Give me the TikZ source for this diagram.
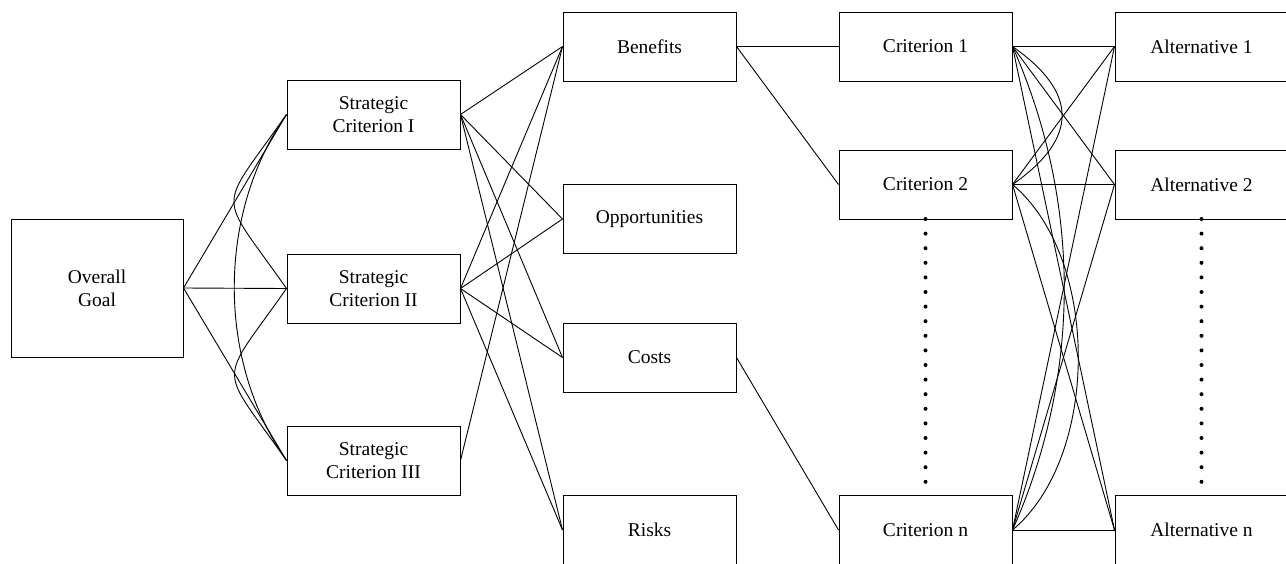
\documentclass[tikz,border=0pt]{standalone}
\usepackage{fontspec}
\setmainfont{Liberation Serif}

\begin{document}
\begin{tikzpicture}[x=1pt, y=-1pt,
    blk/.style={draw, line width=1pt, minimum width=173pt, minimum height=69pt,
      inner sep=2pt, align=center, font=\fontsize{19.5}{23}\selectfont},
    lnk/.style={line width=0.9pt},
    dotmark/.style={fill, circle, inner sep=0pt, minimum size=4pt}]
  \useasboundingbox (0,0) rectangle (1286,563);
  % --- Goal and strategic criteria ---
  \node[blk, minimum width=172pt, minimum height=138pt] (goal) at (97,288) {Overall\\Goal};
  \node[blk] (sc1) at (373.5,114.5) {Strategic\\Criterion I};
  \node[blk] (sc2) at (373.5,288.5) {Strategic\\Criterion II};
  \node[blk] (sc3) at (373.5,460.5) {Strategic\\Criterion III};
  % --- BOCR merits ---
  \node[blk] (ben)  at (649.5,46.5) {Benefits};
  \node[blk] (opp)  at (649.5,219)  {Opportunities};
  \node[blk] (cost) at (649.5,357.5) {Costs};
  \node[blk] (risk) at (649.5,530)  {Risks};
  % --- Criteria and alternatives ---
  \node[blk] (c1) at (925.5,46.5)  {Criterion 1};
  \node[blk] (c2) at (925.5,184.5) {Criterion 2};
  \node[blk] (cn) at (925.5,530)   {Criterion n};
  \node[blk] (a1) at (1201.5,46.5)  {Alternative 1};
  \node[blk] (a2) at (1201.5,184.5) {Alternative 2};
  \node[blk] (an) at (1201.5,530)   {Alternative n};
  % --- Links ---
  \foreach \s in {sc1,sc2,sc3}
    \draw[lnk] (goal.east) -- (\s.west);
  \draw[lnk] (sc1.west) to[out=235, in=125, looseness=1.8] (sc2.west);
  \draw[lnk] (sc2.west) to[out=235, in=125, looseness=1.8] (sc3.west);
  \draw[lnk] (sc1.west) to[out=235, in=125, looseness=0.9] (sc3.west);
  \foreach \s in {sc1,sc2}
    \foreach \m in {ben,opp,cost,risk}
      \draw[lnk] (\s.east) -- (\m.west);
  \draw[lnk] (sc3.east) -- (ben.west);
  \draw[lnk] (ben.east) -- (c1.west);
  \draw[lnk] (ben.east) -- (c2.west);
  \draw[lnk] (cost.east) -- (cn.west);
  \foreach \c in {c1,c2,cn}
    \foreach \a in {a1,a2,an}
      \draw[lnk] (\c.east) -- (\a.west);
  \draw[lnk] (c1.east) to[out=-35, in=35, looseness=1.5] (c2.east);
  \draw[lnk] (c2.east) to[out=-40, in=40, looseness=0.85] (cn.east);
  \draw[lnk] (c1.east) to[out=-66, in=66, looseness=0.9] (cn.east);
  % --- Ellipsis dots ---
  \foreach \k in {0,...,18} {
    \fill (925.5,{219+14.6*\k}) circle (2pt);
    \fill (1201.5,{219+14.6*\k}) circle (2pt);
  }
\end{tikzpicture}
\end{document}
